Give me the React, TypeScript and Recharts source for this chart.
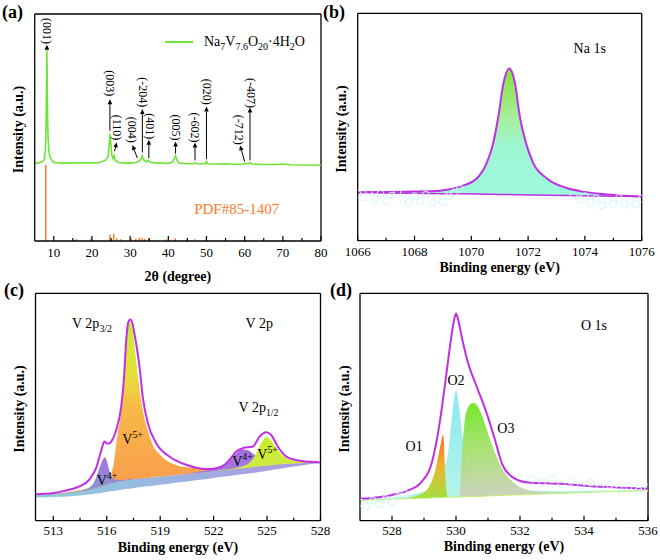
import React from 'react';
import {
  ComposedChart, Line, Area, Scatter, XAxis, YAxis, ReferenceLine, ReferenceDot, Legend, Label,
} from 'recharts';

const FONT = '"Liberation Serif", "Times New Roman", Times, serif';
const MAGENTA = '#bf2fe3';
const GREEN = '#6ee43a';
const ORANGE = '#ff7a26';

// ---------- (a) XRD ----------
const xrdScan: [number, number][] = [
  [5, 34.2], [6, 34.4], [7, 35.0], [7.5, 35.8], [7.8, 40], [7.95, 47], [8.1, 68], [8.2, 84], [8.3, 68],
  [8.4, 52], [8.55, 44], [8.75, 39], [9.1, 36.5], [10, 34.6], [12, 34.3], [15, 34.3], [17, 34.5], [20, 34.4],
  [22, 34.6], [23.5, 35.5], [24.2, 37], [24.5, 42], [24.7, 47.2], [24.9, 44], [25.2, 38], [25.5, 36.3],
  [25.8, 37.6], [26.1, 35.5], [27, 34.6], [28.5, 34.3], [30, 34.3], [31.5, 34.6], [32.2, 35.0], [32.8, 36.0],
  [33.2, 37.5], [33.6, 35.6], [34.2, 34.8], [34.7, 35.6], [35.2, 34.7], [36.5, 34.4], [38, 34.3], [40, 34.2],
  [41.2, 34.8], [41.6, 36.5], [41.9, 37.5], [42.3, 35.5], [42.8, 34.3], [45, 34.0], [46.5, 34.0], [47, 34.5],
  [47.5, 34.0], [49.7, 34.0], [50, 35.0], [50.3, 34.0], [53, 33.9], [55, 34.0], [57, 33.8], [59.5, 33.8],
  [60.2, 34.2], [61, 34.0], [61.4, 34.5], [62, 33.9], [65, 33.7], [68, 33.7], [70, 33.9], [72, 33.6],
  [75, 33.5], [80, 33.4],
];
const pdfSticks: [number, number][] = [
  [7.9, 33.5], [15.9, 0.8], [19.7, 1.0], [24.7, 2.8], [25.7, 3.2], [26.5, 1.2], [27.5, 0.8], [30.3, 1.2],
  [31.5, 1.0], [32.4, 1.5], [33.1, 1.3], [33.8, 1.0], [34.9, 1.2], [36.4, 0.6], [39.4, 0.8], [41.8, 1.2],
  [44.8, 0.6], [47.0, 0.8], [49.9, 1.0], [52.5, 0.6], [55.0, 0.5], [58.3, 0.5], [60.2, 0.6], [62.3, 0.5],
  [65.0, 0.5], [67.3, 0.4], [70.5, 0.5], [73.2, 0.4], [76.4, 0.4],
];
// arrow: from (x1,y1) at the peak to (x2,y2) under the label
const xrdArrows: [number, number, number, number][] = [
  [8.2, 84.3, 8.2, 86.4], [24.7, 48.5, 24.7, 62.5], [25.9, 39.5, 26.5, 43.5], [31.9, 36.5, 30.6, 42.3],
  [33.2, 39, 33.2, 58.2], [34.9, 36.5, 34.9, 44.6], [41.9, 38.5, 41.9, 43.8], [47.0, 35.5, 47.0, 43.4],
  [50.0, 36, 50.0, 59.2], [60.0, 35, 58.8, 42.1], [61.4, 35.5, 61.4, 58.8],
];
const xrdPeakLabels: [string, number, number][] = [
  ['(001)', 8.2, 92.5], ['(003)', 24.7, 69.5], ['(110)', 26.6, 50], ['(004)', 30.4, 49],
  ['(-204)', 33.4, 65.5], ['(401)', 35.1, 50.5], ['(005)', 41.9, 50], ['(-602)', 47.0, 50],
  ['(020)', 50.1, 65.8], ['(-712)', 58.6, 49], ['(-407)', 61.6, 65.2],
];
const xrdTicks = [10, 20, 30, 40, 50, 60, 70, 80];
const xrdMinorTicks = [15, 25, 35, 45, 55, 65, 75];

// ---------- (b) Na 1s ----------
const naEnergy = [1066, 1067, 1068, 1068.9, 1069.6, 1070.2, 1070.54, 1070.77, 1070.95, 1071.13, 1071.34,
  1071.54, 1071.71, 1071.93, 1072.18, 1072.65, 1073.36, 1073.83, 1074.5, 1075.2, 1076];
const naEnvelope = [21.35, 21.4, 21.6, 22.0, 23.8, 27.5, 34.1, 42.8, 54.5, 69.1, 75.7, 69.1, 54.5, 42.8,
  34.1, 27.5, 23.2, 21.8, 20.6, 19.9, 19.4];
const naBackground = [21.2, 21.0, 20.9, 20.7, 20.6, 20.5, 20.4, 20.4, 20.3, 20.3, 20.3, 20.2, 20.2, 20.1,
  20.1, 20.0, 19.9, 19.8, 19.7, 19.6, 19.4];
const naRaw: [number, number][] = [
  [1066.0, 20.5], [1066.2, 19.0], [1066.4, 21.8], [1066.6, 18.2], [1066.8, 20.6], [1067.0, 17.5],
  [1067.2, 19.8], [1067.4, 21.5], [1067.6, 18.0], [1067.8, 16.8], [1068.0, 19.5], [1068.2, 17.2],
  [1068.4, 20.2], [1068.6, 16.5], [1068.8, 18.8], [1069.0, 17.0], [1069.2, 19.6], [1069.4, 21.2],
  [1069.6, 22.8], [1073.6, 20.0], [1073.8, 18.2], [1074.0, 19.5], [1074.2, 16.8], [1074.4, 18.6],
  [1074.6, 15.5], [1074.8, 17.6], [1075.0, 16.2], [1075.2, 18.8], [1075.4, 15.8], [1075.6, 17.5],
  [1075.8, 16.0], [1076.0, 18.5],
];
const naTicks = [1066, 1068, 1070, 1072, 1074, 1076];
const naMinorTicks = [1067, 1069, 1071, 1073, 1075];

// ---------- (c) V 2p ----------
const vEnergy = [512, 513, 514, 514.5, 515, 515.3, 515.6, 515.8, 515.9, 516.0, 516.2, 516.4, 516.6, 516.8,
  517.0, 517.15, 517.3, 517.45, 517.6, 517.8, 518.0, 518.3, 518.6, 519, 519.5, 520, 521, 522, 522.5, 523,
  523.3, 523.6, 523.9, 524.2, 524.5, 524.75, 524.95, 525.2, 525.5, 526, 526.5, 527, 528];
const vBackground = [11.2, 11.6, 12.3, 12.8, 13.5, 14.1, 14.8, 15.3, 15.5, 15.8, 16.2, 16.6, 17.0, 17.3,
  17.6, 17.8, 17.9, 18.1, 18.2, 18.4, 18.6, 18.8, 19.1, 19.4, 19.8, 20.2, 21.0, 21.8, 22.2, 22.6,
  22.8, 23.1, 23.3, 23.6, 23.8, 24.0, 24.2, 24.4, 24.6, 24.9, 25.2, 25.4, 25.7];
const vLower = [10.2, 10.4, 10.8, 11.1, 11.5, 11.8, 12.1, 12.4, 12.5, 12.6, 12.9, 13.1, 13.3, 13.6,
  13.8, 14.0, 14.1, 14.3, 14.5, 14.7, 14.9, 15.2, 15.4, 15.8, 16.3, 16.8, 17.8, 18.8, 19.3, 19.8,
  20.1, 20.4, 20.7, 21.0, 21.3, 21.6, 21.9, 22.2, 22.6, 23.2, 23.8, 24.4, 25.4];
const vV5Main = [0, 0.2, 0.4, 0.6, 0.9, 1.2, 1.6, 2.0, 2.2, 2.5, 3.5, 9, 21, 30,
  48, 65, 69.5, 66, 56, 42, 31, 21, 14, 9.5, 6, 4, 2.2, 1.2, 0.9, 0.6,
  0.5, 0.4, 0.4, 0.3, 0.3, 0.2, 0.2, 0.2, 0.1, 0.1, 0, 0, 0];
const vV4Main = [0, 0.1, 0.2, 0.4, 1.0, 3.0, 8.5, 11.8, 12.4, 10.5, 4.5, 1.8, 0.9, 0.6,
  0.4, 0.3, 0.3, 0.2, 0.2, 0.2, 0.1, 0.1, 0, 0, 0, 0, 0, 0, 0, 0,
  0, 0, 0, 0, 0, 0, 0, 0, 0, 0, 0, 0, 0];
const vV4Half = [0, 0, 0, 0, 0, 0, 0, 0, 0, 0, 0, 0, 0, 0,
  0, 0, 0, 0, 0, 0, 0, 0, 0, 0, 0, 0, 0.3, 1.0, 2.2, 4.8,
  7.0, 8.3, 7.8, 6.0, 4.0, 2.8, 2.2, 1.6, 1.1, 0.6, 0.4, 0.2, 0.1];
const vV5Half = [0, 0, 0, 0, 0, 0, 0, 0, 0, 0, 0, 0, 0, 0,
  0, 0, 0, 0, 0, 0, 0, 0, 0, 0, 0, 0, 0, 0, 0.2, 0.3,
  0.5, 0.8, 1.5, 3.5, 7.5, 11, 12.5, 11, 7.5, 3, 1.3, 0.6, 0.2];
const vEnvelope: [number, number][] = [
  [512, 11.6], [513, 12.2], [513.5, 12.9], [514, 13.8], [514.5, 15.2], [515, 17.9], [515.4, 23.1],
  [515.7, 31.1], [515.87, 34.8], [516.06, 33.8], [516.25, 34.8], [516.53, 39.9], [516.81, 50.1],
  [516.96, 61.8], [517.1, 80], [517.2, 87], [517.32, 88.5], [517.45, 86.5], [517.56, 82], [517.84, 67.7],
  [518.02, 54.5], [518.31, 42.9], [518.78, 34.1], [519.52, 28.2], [520.46, 24.6], [521.58, 22.7],
  [522.15, 23.1], [522.6, 24.5], [522.89, 26.8], [523.27, 30.4], [523.64, 31.9], [524.2, 32.6],
  [524.58, 37.0], [524.95, 38.9], [525.23, 37.7], [525.6, 32.6], [526.08, 28.2], [526.82, 26.4],
  [527.85, 25.7], [528, 25.6],
];
const vTicks = [513, 516, 519, 522, 525, 528];
const vMinorTicks = [514.5, 517.5, 520.5, 523.5, 526.5];

// ---------- (d) O 1s ----------
const oEnergy = [527, 528, 528.5, 528.8, 529.0, 529.2, 529.35, 529.5, 529.6, 529.68, 529.75, 529.85, 529.95,
  530.0, 530.1, 530.2, 530.3, 530.4, 530.5, 530.6, 530.7, 530.85, 531.0, 531.2, 531.4, 531.6, 531.8, 532.0,
  532.3, 532.6, 533, 533.5, 534, 535, 536];
const oBackground = [9.0, 9.5, 9.7, 9.9, 9.9, 10.0, 10.1, 10.2, 10.2, 10.3, 10.3, 10.3, 10.4, 10.4, 10.4,
  10.5, 10.5, 10.6, 10.6, 10.7, 10.7, 10.8, 10.9, 11.0, 11.1, 11.2, 11.3, 11.4, 11.5, 11.7, 11.9, 12.1,
  12.4, 12.8, 13.2];
const oO1 = [0, 0, 0.3, 1.2, 2.5, 6, 12, 22, 27.5, 6, 0, 0, 0, 0, 0, 0, 0, 0, 0, 0, 0, 0, 0, 0, 0, 0, 0, 0,
  0, 0, 0, 0, 0, 0, 0];
const oO2 = [0.3, 0.8, 1.5, 2.2, 3.0, 4.2, 5.5, 8, 11, 15, 19.5, 32, 44, 46.7, 39, 27, 18, 12.5, 9.5, 7.5,
  6.2, 5, 4.2, 3.5, 3, 2.6, 2.3, 2.0, 1.7, 1.5, 1.2, 1.0, 0.8, 0.5, 0.4];
const oO3 = [0, 0, 0, 0, 0, 0, 0, 0, 0, 0, 0, 0, 0, 0, 0.5, 22, 36, 39.7, 41.2, 40.8, 39, 34, 27.6, 19.5,
  13, 8.5, 5.5, 3.4, 1.8, 1.0, 0.5, 0.2, 0.1, 0, 0];
const oEnvelope: [number, number][] = [
  [527, 9.6], [527.5, 10.2], [528, 11.3], [528.51, 13.3], [528.93, 17.2], [529.24, 25.3], [529.4, 35.5],
  [529.55, 48.7], [529.66, 60.4], [529.81, 76.4], [529.92, 86.7], [530.0, 91.1], [530.07, 88.2],
  [530.18, 80.8], [530.38, 69.2], [530.65, 58.9], [530.96, 47.2], [531.22, 35.5], [531.43, 25.3],
  [531.74, 19.4], [532.26, 16.8], [533.3, 16.2], [534.4, 15.0], [535.2, 14.5], [536, 14.0],
];
const oRaw: [number, number][] = [
  [527.0, 8.0], [527.2, 6.5], [527.4, 8.8], [527.6, 7.2], [527.8, 9.5], [528.0, 8.2], [528.2, 10.5],
  [528.4, 11.8], [532.4, 18.5], [532.7, 17.0], [533.0, 18.2], [533.3, 16.0], [533.6, 17.5], [533.9, 15.2],
  [534.2, 16.8], [534.5, 14.6], [534.8, 15.8], [535.1, 13.9], [535.4, 15.2], [535.7, 13.2], [536.0, 14.5],
];
const oTicks = [528, 530, 532, 534, 536];
const oMinorTicks = [529, 531, 533, 535];

// ---------- helpers ----------
type Rich = { text: string; sub?: string; sup?: string };

const RichText = ({ x, y, t, size = 14, color = '#000' }: { x: number; y: number; t: Rich; size?: number; color?: string }) => (
  <text x={x} y={y} textAnchor="middle" dominantBaseline="central" fontFamily={FONT} fontSize={size} fill={color}>
    {t.text}
    {t.sub && <tspan fontSize={size * 0.7} dy={size * 0.3}>{t.sub}</tspan>}
    {t.sup && <tspan fontSize={size * 0.7} dy={-size * 0.4}>{t.sup}</tspan>}
  </text>
);

const Arrow = (p: any) => {
  const { x1, y1, x2, y2 } = p;
  const ang = Math.atan2(y2 - y1, x2 - x1);
  const len = 5;
  const w = 2.3;
  const bx = x2 - len * Math.cos(ang);
  const by = y2 - len * Math.sin(ang);
  const ox = -Math.sin(ang) * w;
  const oy = Math.cos(ang) * w;
  return (
    <g>
      <line x1={x1} y1={y1} x2={bx} y2={by} stroke="#000" strokeWidth={1} />
      <polygon points={`${x2},${y2} ${bx + ox},${by + oy} ${bx - ox},${by - oy}`} fill="#000" />
    </g>
  );
};

const tickRenderer = (majors: number[], labelDy: number) => (props: any) => {
  const { x, y, payload } = props;
  const major = majors.includes(payload.value);
  return (
    <g>
      <line x1={x} x2={x} y1={y} y2={y - (major ? 5 : 3)} stroke="#000" strokeWidth={1.2} />
      {major && (
        <text x={x} y={y + labelDy} textAnchor="middle" fontFamily={FONT} fontSize={13} fill="#000">
          {payload.value}
        </text>
      )}
    </g>
  );
};

const xTitle = (title: string, dy: number) => (props: any) => {
  const vb = props.viewBox;
  return (
    <text x={vb.x + vb.width / 2} y={vb.y + dy} textAnchor="middle" fontFamily={FONT} fontSize={14} fontWeight="bold">
      {title}
    </text>
  );
};

const yTitle = (props: any) => {
  const vb = props.viewBox;
  const cx = vb.x + vb.width - 16;
  const cy = vb.y + vb.height / 2 + 2;
  return (
    <text x={cx} y={cy} transform={`rotate(-90 ${cx} ${cy})`} textAnchor="middle" dominantBaseline="central"
      fontFamily={FONT} fontSize={14} fontWeight="bold">
      Intensity (a.u.)
    </text>
  );
};

const axisLineStyle = { stroke: '#000', strokeWidth: 1.3 };

// bottom axis (ticks + title), left axis (frame + title), top/right frame lines
const frame = (domain: [number, number], majors: number[], minors: number[], title: string, titleDy: number, labelDy: number) => [
  <XAxis key="xb" dataKey="x" type="number" domain={domain} ticks={[...majors, ...minors].sort((a, b) => a - b)}
    interval={0} height={1} axisLine={axisLineStyle} tickLine={false} tickSize={0} tickMargin={0}
    tick={tickRenderer(majors, labelDy)} allowDataOverflow>
    <Label content={xTitle(title, titleDy)} />
  </XAxis>,
  <YAxis key="yl" type="number" domain={[0, 100]} width={1} tick={false} axisLine={axisLineStyle} tickLine={false} allowDataOverflow>
    <Label content={yTitle} />
  </YAxis>,
  <ReferenceLine key="ft" y={100} stroke="#000" strokeWidth={1.3} ifOverflow="visible" />,
  <ReferenceLine key="fr" x={domain[1]} stroke="#000" strokeWidth={1.3} ifOverflow="visible" />,
];

const XrdLegend = () => (
  <div style={{ display: 'flex', alignItems: 'center', fontFamily: FONT, fontSize: 14, lineHeight: '18px', whiteSpace: 'nowrap' }}>
    <svg width={28} height={4}><line x1={0} y1={2} x2={28} y2={2} stroke={GREEN} strokeWidth={2} /></svg>
    <span style={{ marginLeft: 11 }}>
      Na<sub style={{ fontSize: 10, lineHeight: 0 }}>7</sub>V<sub style={{ fontSize: 10, lineHeight: 0 }}>7.6</sub>
      O<sub style={{ fontSize: 10, lineHeight: 0 }}>20</sub>·4H<sub style={{ fontSize: 10, lineHeight: 0 }}>2</sub>O
    </span>
  </div>
);

const rawDot = (p: any) => <circle cx={p.cx} cy={p.cy} r={3.5} fill="none" stroke="#d4f8fa" strokeWidth={1} />;

// ---------- panels ----------
const XrdPanel = () => {
  const rows = xrdScan.map(([x, y]) => ({ x, y }));
  return (
    <ComposedChart width={330} height={290} margin={{ top: 14, right: 9, bottom: 48, left: 33.7 }}>
      {frame([5, 80], xrdTicks, xrdMinorTicks, '2θ (degree)', 40, 16)}
      {pdfSticks.map(([x, h], i) => (
        <ReferenceLine key={`s${i}`} segment={[{ x, y: 0 }, { x, y: h }]} stroke={ORANGE} strokeWidth={1.5} />
      ))}
      <Line data={rows} dataKey="y" type="linear" stroke={GREEN} strokeWidth={1.6} dot={false} isAnimationActive={false} />
      {xrdArrows.map(([x1, y1, x2, y2], i) => (
        <ReferenceLine key={`a${i}`} segment={[{ x: x1, y: y1 }, { x: x2, y: y2 }]} shape={Arrow} />
      ))}
      {xrdPeakLabels.map(([t, x, y], i) => (
        <ReferenceDot key={`l${i}`} x={x} y={y} r={0} shape={(p: any) => (
          <text x={p.cx} y={p.cy} transform={`rotate(90 ${p.cx} ${p.cy})`} textAnchor="middle" dominantBaseline="central"
            fontFamily={FONT} fontSize={12}>{t}</text>
        )} />
      ))}
      <ReferenceDot x={57.9} y={13.9} r={0} shape={(p: any) => (
        <RichText x={p.cx} y={p.cy} t={{ text: 'PDF#85-1407' }} size={15} color={ORANGE} />
      )} />
      <Legend layout="horizontal" verticalAlign="middle" align="center" content={XrdLegend}
        wrapperStyle={{ left: 165, top: 33, width: 'auto' }} />
    </ComposedChart>
  );
};

const NaPanel = () => {
  const rows = naEnergy.map((x, i) => ({ x, env: naEnvelope[i], base: naBackground[i], fill: [naBackground[i], naEnvelope[i]] }));
  const raw = naRaw.map(([x, y]) => ({ x, y }));
  return (
    <ComposedChart width={330} height={290} margin={{ top: 13.3, right: 18.3, bottom: 48.3, left: 26.7 }}>
      <defs>
        <linearGradient id="gNa" x1="0" y1="0" x2="0" y2="1">
          <stop offset="0" stopColor="#86e23c" />
          <stop offset="0.4" stopColor="#a6efa0" />
          <stop offset="0.6" stopColor="#9ef6d2" />
          <stop offset="1" stopColor="#9ef8dc" />
        </linearGradient>
      </defs>
      {frame([1066, 1076], naTicks, naMinorTicks, 'Binding energy (eV)', 31, 15)}
      <Scatter data={raw} dataKey="y" isAnimationActive={false} shape={rawDot} />
      <Area data={rows} dataKey="fill" type="monotone" stroke="none" fill="url(#gNa)" fillOpacity={1} isAnimationActive={false} />
      <Line data={rows} dataKey="base" type="linear" stroke={MAGENTA} strokeWidth={1.5} dot={false} isAnimationActive={false} />
      <Line data={rows} dataKey="env" type="monotone" stroke={MAGENTA} strokeWidth={2} dot={false} isAnimationActive={false} />
      <ReferenceDot x={1074.17} y={84.5} r={0} shape={(p: any) => <RichText x={p.cx} y={p.cy} t={{ text: 'Na 1s' }} />} />
    </ComposedChart>
  );
};

const vLabels: [Rich, number, number][] = [
  [{ text: 'V 2p', sub: '3/2' }, 515.17, 86.8],
  [{ text: 'V 2p' }, 524.56, 86.8],
  [{ text: 'V 2p', sub: '1/2' }, 524.52, 49.6],
  [{ text: 'V', sup: '5+' }, 517.45, 35.5],
  [{ text: 'V', sup: '4+' }, 516.01, 17.5],
  [{ text: 'V', sup: '4+' }, 523.62, 25.9],
  [{ text: 'V', sup: '5+' }, 525.03, 28.9],
];

const VPanel = () => {
  const rows = vEnergy.map((x, i) => {
    const b = vBackground[i];
    return {
      x,
      band: [vLower[i], b],
      v5a: [b, b + vV5Main[i]],
      v4a: [b, b + vV4Main[i]],
      v4b: [b, b + vV4Half[i]],
      v5b: [b, b + vV5Half[i]],
    };
  });
  const env = vEnvelope.map(([x, y]) => ({ x, y }));
  return (
    <ComposedChart width={330} height={280} margin={{ top: 13.3, right: 9.5, bottom: 38.3, left: 34.5 }}>
      <defs>
        <linearGradient id="gBand" x1="0" y1="0" x2="1" y2="0">
          <stop offset="0" stopColor="#70c0cc" />
          <stop offset="0.3" stopColor="#7aaed8" />
          <stop offset="1" stopColor="#9a7ad8" />
        </linearGradient>
        <linearGradient id="gV5a" x1="0" y1="0" x2="0" y2="1">
          <stop offset="0" stopColor="#c4ec34" />
          <stop offset="0.3" stopColor="#e8e03a" />
          <stop offset="0.5" stopColor="#f8b848" />
          <stop offset="1" stopColor="#f99a4e" />
        </linearGradient>
        <linearGradient id="gV4a" x1="0" y1="0" x2="0" y2="1">
          <stop offset="0" stopColor="#a46fe0" />
          <stop offset="1" stopColor="#86a0d0" />
        </linearGradient>
        <linearGradient id="gV4b" x1="0" y1="0" x2="0" y2="1">
          <stop offset="0" stopColor="#a06ee0" />
          <stop offset="1" stopColor="#a486dc" />
        </linearGradient>
        <linearGradient id="gV5b" x1="0" y1="0" x2="0" y2="1">
          <stop offset="0" stopColor="#c6ec28" />
          <stop offset="1" stopColor="#dce860" />
        </linearGradient>
      </defs>
      {frame([512, 528], vTicks, vMinorTicks, 'Binding energy (eV)', 31, 14.5)}
      <Area data={rows} dataKey="band" type="monotone" stroke="none" fill="url(#gBand)" fillOpacity={0.8} isAnimationActive={false} />
      <Area data={rows} dataKey="v5a" type="monotone" stroke="none" fill="url(#gV5a)" fillOpacity={1} isAnimationActive={false} />
      <Area data={rows} dataKey="v4a" type="monotone" stroke="none" fill="url(#gV4a)" fillOpacity={1} isAnimationActive={false} />
      <Area data={rows} dataKey="v4b" type="monotone" stroke="none" fill="url(#gV4b)" fillOpacity={1} isAnimationActive={false} />
      <Area data={rows} dataKey="v5b" type="monotone" stroke="none" fill="url(#gV5b)" fillOpacity={1} isAnimationActive={false} />
      <Line data={env} dataKey="y" type="monotone" stroke={MAGENTA} strokeWidth={2} dot={false} isAnimationActive={false} />
      {vLabels.map(([t, x, y], i) => (
        <ReferenceDot key={`v${i}`} x={x} y={y} r={0} shape={(p: any) => <RichText x={p.cx} y={p.cy} t={t} />} />
      ))}
    </ComposedChart>
  );
};

const oLabels: [Rich, number, number][] = [
  [{ text: 'O 1s' }, 534.31, 86],
  [{ text: 'O1' }, 528.69, 32.6],
  [{ text: 'O2' }, 530.0, 61.8],
  [{ text: 'O3' }, 531.56, 40.4],
];

const OPanel = () => {
  const rows = oEnergy.map((x, i) => {
    const b = oBackground[i];
    return { x, base: b, o1: [b, b + oO1[i]], o2: [b, b + oO2[i]], o3: [b, b + oO3[i]] };
  });
  const env = oEnvelope.map(([x, y]) => ({ x, y }));
  const raw = oRaw.map(([x, y]) => ({ x, y }));
  return (
    <ComposedChart width={330} height={280} margin={{ top: 13.3, right: 12, bottom: 38.3, left: 29 }}>
      <defs>
        <linearGradient id="gO1" x1="0" y1="0" x2="0" y2="1">
          <stop offset="0" stopColor="#ff6a22" />
          <stop offset="0.5" stopColor="#e8b830" />
          <stop offset="1" stopColor="#9ee040" />
        </linearGradient>
        <linearGradient id="gO2" x1="0" y1="0" x2="0" y2="1">
          <stop offset="0" stopColor="#86e8ee" />
          <stop offset="1" stopColor="#b2f4e8" />
        </linearGradient>
        <linearGradient id="gO3" x1="0" y1="0" x2="0" y2="1">
          <stop offset="0" stopColor="#6ee622" />
          <stop offset="0.5" stopColor="#a8e070" />
          <stop offset="1" stopColor="#d0cfc4" />
        </linearGradient>
      </defs>
      {frame([527, 536], oTicks, oMinorTicks, 'Binding energy (eV)', 30, 14.5)}
      <Scatter data={raw} dataKey="y" isAnimationActive={false} shape={rawDot} />
      <Area data={rows} dataKey="o2" type="monotone" stroke="none" fill="url(#gO2)" fillOpacity={0.95} isAnimationActive={false} />
      <Area data={rows} dataKey="o3" type="monotone" stroke="none" fill="url(#gO3)" fillOpacity={0.95} isAnimationActive={false} />
      <Area data={rows} dataKey="o1" type="monotone" stroke="none" fill="url(#gO1)" fillOpacity={1} isAnimationActive={false} />
      <Line data={rows} dataKey="base" type="linear" stroke="#c6ef6a" strokeWidth={1} dot={false} isAnimationActive={false} />
      <Line data={env} dataKey="y" type="monotone" stroke={MAGENTA} strokeWidth={2} dot={false} isAnimationActive={false} />
      {oLabels.map(([t, x, y], i) => (
        <ReferenceDot key={`o${i}`} x={x} y={y} r={0} shape={(p: any) => <RichText x={p.cx} y={p.cy} t={t} />} />
      ))}
    </ComposedChart>
  );
};

const panelLetter = (text: string, left: number, top: number) => (
  <div style={{ position: 'absolute', left, top, fontFamily: FONT, fontSize: 18, fontWeight: 'bold', lineHeight: '20px' }}>
    {text}
  </div>
);

export default function App() {
  return (
    <div style={{ position: 'absolute', left: 0, top: 0, width: 660, height: 560, background: '#fff', overflow: 'hidden' }}>
      <div style={{ position: 'absolute', left: 0, top: 0 }}><XrdPanel /></div>
      <div style={{ position: 'absolute', left: 330, top: 0 }}><NaPanel /></div>
      <div style={{ position: 'absolute', left: 0, top: 280 }}><VPanel /></div>
      <div style={{ position: 'absolute', left: 330, top: 280 }}><OPanel /></div>
      {panelLetter('(a)', 2, 2)}
      {panelLetter('(b)', 323, 2)}
      {panelLetter('(c)', 4, 280)}
      {panelLetter('(d)', 330, 280)}
    </div>
  );
}
